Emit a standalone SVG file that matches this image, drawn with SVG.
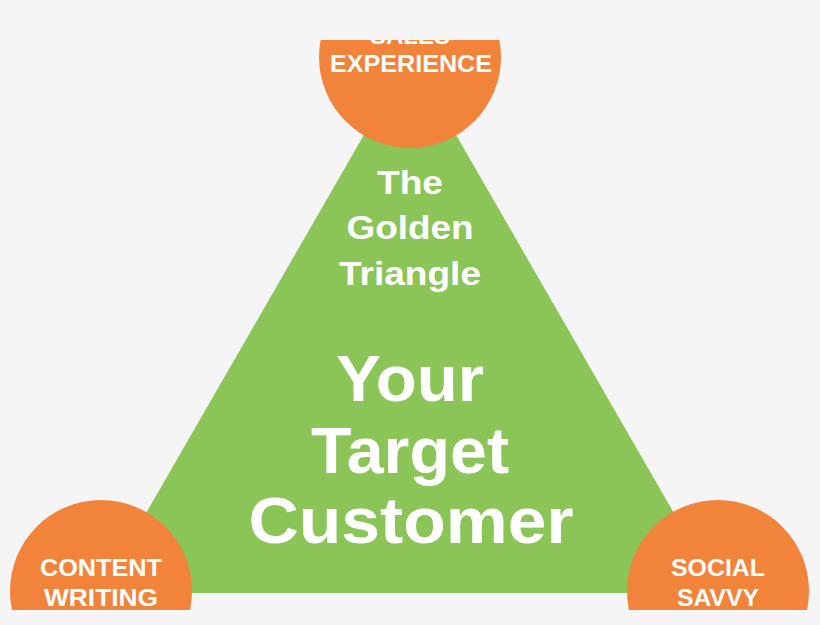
<svg xmlns="http://www.w3.org/2000/svg" width="820" height="625" viewBox="0 0 820 625">
<style>
.c{fill:#f2833a}
.t{font-family:"Liberation Sans",Arial,sans-serif;font-weight:bold;fill:#fff;text-anchor:middle}
.s{font-size:24px}
</style>
<defs><clipPath id="k"><rect x="0" y="40" width="820" height="570"/></clipPath></defs>
<rect width="820" height="625" fill="#f5f5f5"/>
<g clip-path="url(#k)">
<g id="triangle"><polygon points="410,55 100,593 720,593" fill="#8bc558"/>
<text class="t" x="410" y="194" font-size="33" textLength="66" lengthAdjust="spacingAndGlyphs">The</text>
<text class="t" x="410" y="239" font-size="33" textLength="127" lengthAdjust="spacingAndGlyphs">Golden</text>
<text class="t" x="410" y="285" font-size="33" textLength="142" lengthAdjust="spacingAndGlyphs">Triangle</text>
<text class="t" x="410" y="401" font-size="64" textLength="148" lengthAdjust="spacingAndGlyphs">Your</text>
<text class="t" x="410" y="473" font-size="64" textLength="198" lengthAdjust="spacingAndGlyphs">Target</text>
<text class="t" x="411" y="543" font-size="64" textLength="325" lengthAdjust="spacingAndGlyphs">Customer</text></g>
<g id="sales"><circle class="c" cx="410" cy="57" r="91"/>
<text class="t s" x="410" y="44">SALES</text>
<text class="t s" x="411" y="72" textLength="162" lengthAdjust="spacingAndGlyphs">EXPERIENCE</text></g>
<g id="content"><circle class="c" cx="101" cy="591" r="91"/>
<text class="t s" x="101" y="576" textLength="122" lengthAdjust="spacingAndGlyphs">CONTENT</text>
<text class="t s" x="101" y="606" textLength="114" lengthAdjust="spacingAndGlyphs">WRITING</text></g>
<g id="social"><circle class="c" cx="718" cy="591" r="91"/>
<text class="t s" x="718" y="576" textLength="94" lengthAdjust="spacingAndGlyphs">SOCIAL</text>
<text class="t s" x="718" y="606" textLength="82" lengthAdjust="spacingAndGlyphs">SAVVY</text></g>
</g>
<g id="connectors"/>
</svg>
